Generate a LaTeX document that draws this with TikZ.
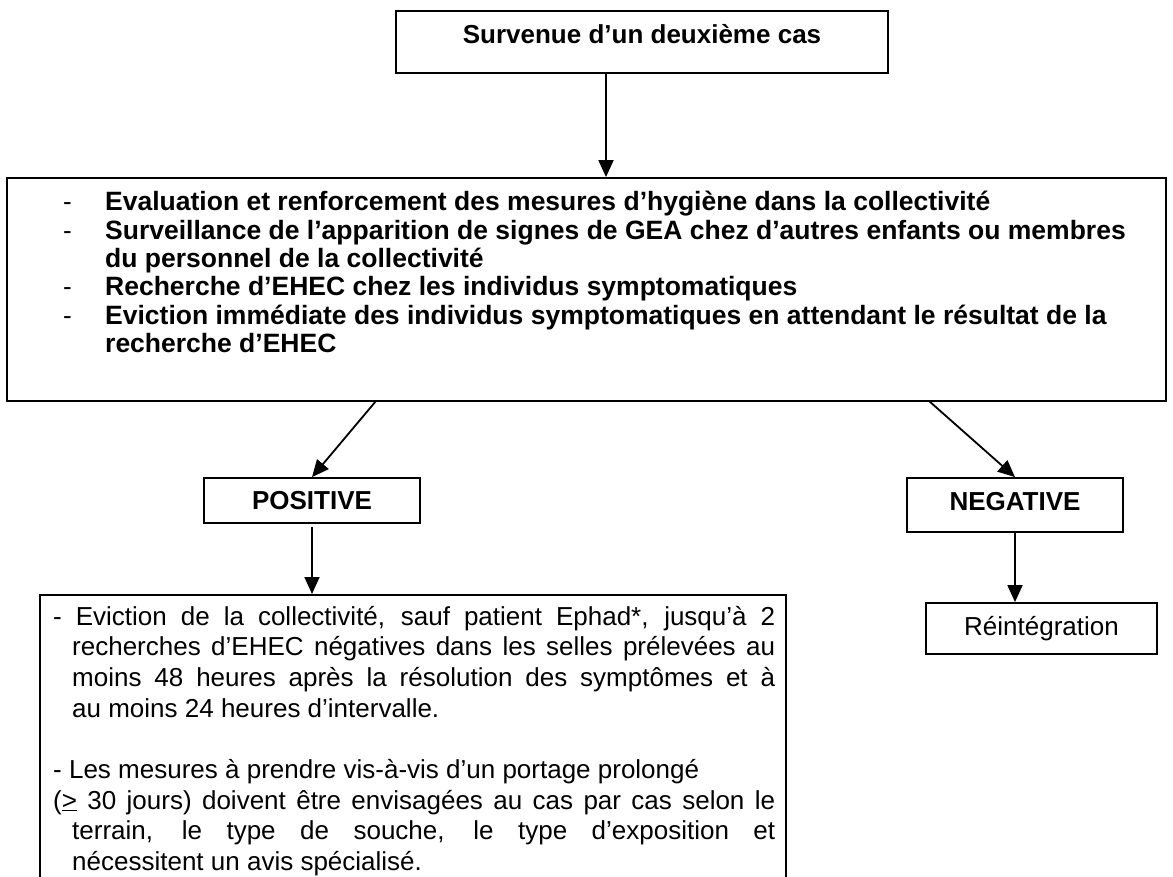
\documentclass[tikz,border=0pt]{standalone}
\usepackage{fontspec}
\setmainfont{Liberation Sans}
\usetikzlibrary{arrows.meta}
\begin{document}
\begin{tikzpicture}[x=1pt,y=-1pt,
  box/.style={draw=black, line width=1.8pt, inner sep=0pt, font=\bfseries\fontsize{26}{28.3}\selectfont, text height=18.6pt},
  arr/.style={line width=1.8pt, -{Triangle[length=17pt,width=15pt]}},
  btxt/.style={anchor=base west, inner sep=0pt, font=\bfseries\fontsize{26.5}{28.3}\selectfont},
  dtxt/.style={anchor=base west, inner sep=0pt, font=\fontsize{26}{28.3}\selectfont},
  rtxt/.style={anchor=base west, inner sep=0pt, font=\fontsize{26}{30.7}\selectfont},
]
\useasboundingbox (0,0) rectangle (1173,877);
\clip (0,0) rectangle (1173,877);

% top box
\node[box, minimum width=492pt, minimum height=62pt, text depth=14.6pt] (top) at (642,42) {Survenue d’un deuxième cas};

% big box
\node[box, minimum width=1159pt, minimum height=223pt] (big) at (586.5,289.5) {};
\node[dtxt] (d1) at (63,211) {-};
\node[btxt] (e1) at (105,211) {Evaluation et renforcement des mesures d’hygiène dans la collectivité};
\node[dtxt] (d2) at (63,239.3) {-};
\node[btxt] (e2) at (105,239.3) {Surveillance de l’apparition de signes de GEA chez d’autres enfants ou membres};
\node[btxt] (e2b) at (105,267.6) {du personnel de la collectivité};
\node[dtxt] (d3) at (63,296) {-};
\node[btxt] (e3) at (105,296) {Recherche d’EHEC chez les individus symptomatiques};
\node[dtxt] (d4) at (63,324.3) {-};
\node[btxt] (e4) at (105,324.3) {Eviction immédiate des individus symptomatiques en attendant le résultat de la};
\node[btxt] (e4b) at (105,352.6) {recherche d’EHEC};

% result boxes
\node[box, minimum width=216pt, minimum height=45pt, text depth=0pt] (pos) at (312,500.5) {POSITIVE};
\node[box, minimum width=216pt, minimum height=54pt, text depth=8.6pt] (neg) at (1015,505) {NEGATIVE};
\node[box, font=\fontsize{26}{30}\selectfont, minimum width=231pt, minimum height=51pt, text depth=5.6pt] (rei) at (1041.5,628.5) {Réintégration};

% lower box
\node[draw=black, line width=1.8pt, inner sep=0pt, minimum width=746pt, minimum height=320pt, anchor=north west] (low) at (39,594) {};
\node[rtxt] (p1) at (53,625) {\makebox[722pt][s]{- Eviction de la collectivité, sauf patient Ephad*, jusqu’à 2}};
\node[rtxt] (p2) at (72,655.7) {\makebox[703pt][s]{recherches d’EHEC négatives dans les selles prélevées au}};
\node[rtxt] (p3) at (72,686.4) {\makebox[703pt][s]{moins 48 heures après la résolution des symptômes et à}};
\node[rtxt] (p4) at (72,717.1) {au moins 24 heures d’intervalle.};
\node[rtxt] (p5) at (53,778.5) {- Les mesures à prendre vis-à-vis d’un portage prolongé};
\node[rtxt] (p6) at (53,809.2) {\makebox[722pt][s]{(\underline{>} 30 jours) doivent être envisagées au cas par cas selon le}};
\node[rtxt] (p7) at (72,839.9) {\makebox[703pt][s]{terrain, le type de souche, le type d’exposition et}};
\node[rtxt] (p8) at (72,870.6) {nécessitent un avis spécialisé.};

% connectors
\coordinate (t1) at (606,73);
\draw[arr] (t1) -- (t1 |- big.north);
\coordinate (b1) at (376,401);
\draw[arr] (b1) -- (pos.north);
\coordinate (b2) at (929,401);
\draw[arr] (b2) -- (neg.north);
\draw[arr, shorten <=3pt] (pos.south) -- (pos.south |- low.north);
\draw[arr] (neg.south) -- (neg.south |- rei.north);
\end{tikzpicture}
\end{document}
